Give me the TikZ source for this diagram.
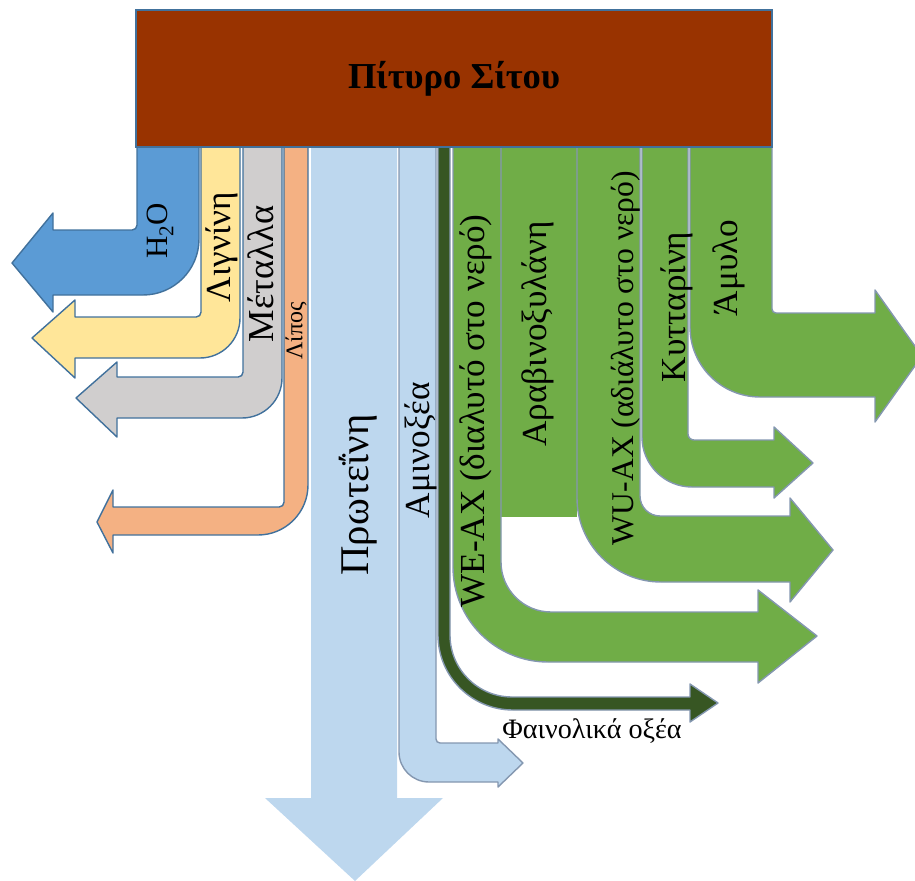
\documentclass[tikz,border=0pt]{standalone}
\usepackage{fontspec}
\setmainfont{Liberation Serif}
\usepackage{tikz}
\definecolor{branbrown}{RGB}{153, 51, 0}
\definecolor{edgeblue}{RGB}{65, 113, 156}
\definecolor{edgegrey}{RGB}{132, 151, 176}
\definecolor{waterblue}{RGB}{91, 155, 213}
\definecolor{ligninyellow}{RGB}{255, 230, 153}
\definecolor{mineralgrey}{RGB}{208, 206, 206}
\definecolor{fatorange}{RGB}{244, 177, 131}
\definecolor{proteinblue}{RGB}{189, 215, 238}
\definecolor{fibregreen}{RGB}{112, 173, 71}
\definecolor{phenolgreen}{RGB}{55, 86, 35}

\begin{document}
\begin{tikzpicture}[
    x=0.025cm, y=-0.025cm,
    box/.style={rectangle, draw=edgeblue, line width=1.2pt, fill=branbrown, minimum width=15.9cm, minimum height=3.425cm, inner sep=0pt, font=\fontsize{26}{30}\selectfont\bfseries},
    leftflow/.style={draw=edgeblue, line width=1pt, line join=round},
    rightflow/.style={draw=edgegrey, line width=1pt, line join=round},
    label/.style={rotate=90, inner sep=0pt, font=\fontsize{25}{28}\selectfont}
]
    \useasboundingbox (0,0) rectangle (915,881);

    % protein, straight down
    \fill[proteinblue] (311,147) -- (311,798) -- (265,798) -- (355,881) -- (443,798) -- (397,798) -- (397,147) -- cycle;

    % flows to the left
    \draw[leftflow, fill=waterblue] (137,147) [rounded corners=0.12cm] -- (137,230) [sharp corners] -- (53,230) -- (53,213) -- (12,263) -- (53,312) -- (53,295) [rounded corners=1.4cm] -- (199,295) [sharp corners] -- (199,147) -- cycle;
    \draw[leftflow, fill=ligninyellow] (201,147) [rounded corners=0.12cm] -- (201,317) [sharp corners] -- (75,317) -- (75,300) -- (32,338) -- (75,378) -- (75,358) [rounded corners=1cm] -- (240,358) [sharp corners] -- (240,147) -- cycle;
    \draw[leftflow, fill=mineralgrey] (243,147) [rounded corners=0.12cm] -- (243,377) [sharp corners] -- (117,377) -- (117,362) -- (76,398) -- (117,437) -- (117,418) [rounded corners=1cm] -- (282,418) [sharp corners] -- (282,147) -- cycle;
    \draw[leftflow, fill=fatorange] (284,147) [rounded corners=0.12cm] -- (284,507) [sharp corners] -- (113,507) -- (113,490) -- (97,522) -- (113,553) -- (113,535) [rounded corners=1.25cm] -- (308,535) [sharp corners] -- (308,147) -- cycle;

    % flows to the right
    \fill[fibregreen] (501,147) rectangle (577,517);
    \draw[rightflow, fill=proteinblue] (436,147) [rounded corners=0.1cm] -- (436,743) [sharp corners] -- (498,743) -- (498,739) -- (523,763) -- (498,787) -- (498,782) [rounded corners=0.75cm] -- (399,782) [sharp corners] -- (399,147) -- cycle;
    \draw[rightflow, fill=phenolgreen] (450,147) [rounded corners=1.55cm] -- (450,697) [sharp corners] -- (690,697) -- (690,684) -- (718,703) -- (690,722) -- (690,710) [rounded corners=1.875cm] -- (438,710) [sharp corners] -- (438,147) -- cycle;
    \draw[rightflow, fill=fibregreen] (501,147) [rounded corners=1.25cm] -- (501,612) [sharp corners] -- (758,612) -- (758,590) -- (817,636) -- (758,683) -- (758,662) [rounded corners=2.375cm] -- (453,662) [sharp corners] -- (453,147) -- cycle;
    \draw[rightflow, fill=fibregreen] (640,147) [rounded corners=0.5cm] -- (640,516) [sharp corners] -- (790,516) -- (790,498) -- (833,550) -- (790,602) -- (790,582) [rounded corners=2.1cm] -- (577,582) [sharp corners] -- (577,147) -- cycle;
    \draw[rightflow, fill=fibregreen] (688,147) [rounded corners=0.15cm] -- (688,440) [sharp corners] -- (774,440) -- (774,427) -- (813,463) -- (774,498) -- (774,487) [rounded corners=1.25cm] -- (642,487) [sharp corners] -- (642,147) -- cycle;
    \draw[rightflow, fill=fibregreen] (772,147) [rounded corners=0.1cm] -- (772,313) [sharp corners] -- (875,313) -- (875,290) -- (922,356) -- (875,422) -- (875,397) [rounded corners=1.75cm] -- (690,397) [sharp corners] -- (690,147) -- cycle;

    % source box
    \node[box] (bran) at (454,78.5) {Πίτυρο Σίτου};

    % labels
    \node[label, font=\fontsize{22}{26}\selectfont] (water) at (160,231) {H\raisebox{-0.45ex}{\fontsize{15}{17}\selectfont 2}O};
    \node[label] (lignin) at (222,247) {Λιγνίνη};
    \node[label, font=\fontsize{26}{28}\selectfont] (minerals) at (261,274) {Μέταλλα};
    \node[label, font=\fontsize{17}{20}\selectfont] (fat) at (296,331) {Λίπος};
    \node[label, font=\fontsize{29}{32}\selectfont] (protein) at (358,495) {Πρωτεΐνη};
    \node[label] (amino) at (421,450) {Αμινοξέα};
    \node[label] (weax) at (476,411) {WE-AX (διαλυτό στο νερό)};
    \node[label] (arabinoxylan) at (538,334) {Αραβινοξυλάνη};
    \node[label, font=\fontsize{22.5}{26}\selectfont] (wuax) at (626,358) {WU-AX (αδιάλυτο στο νερό)};
    \node[label] (cellulose) at (677,307) {Κυτταρίνη};
    \node[label] (starch) at (729,268) {Άμυλο};
    \node[inner sep=0pt, font=\fontsize{20}{24}\selectfont] (phenolic) at (592,731) {Φαινολικά οξέα};
\end{tikzpicture}
\end{document}
